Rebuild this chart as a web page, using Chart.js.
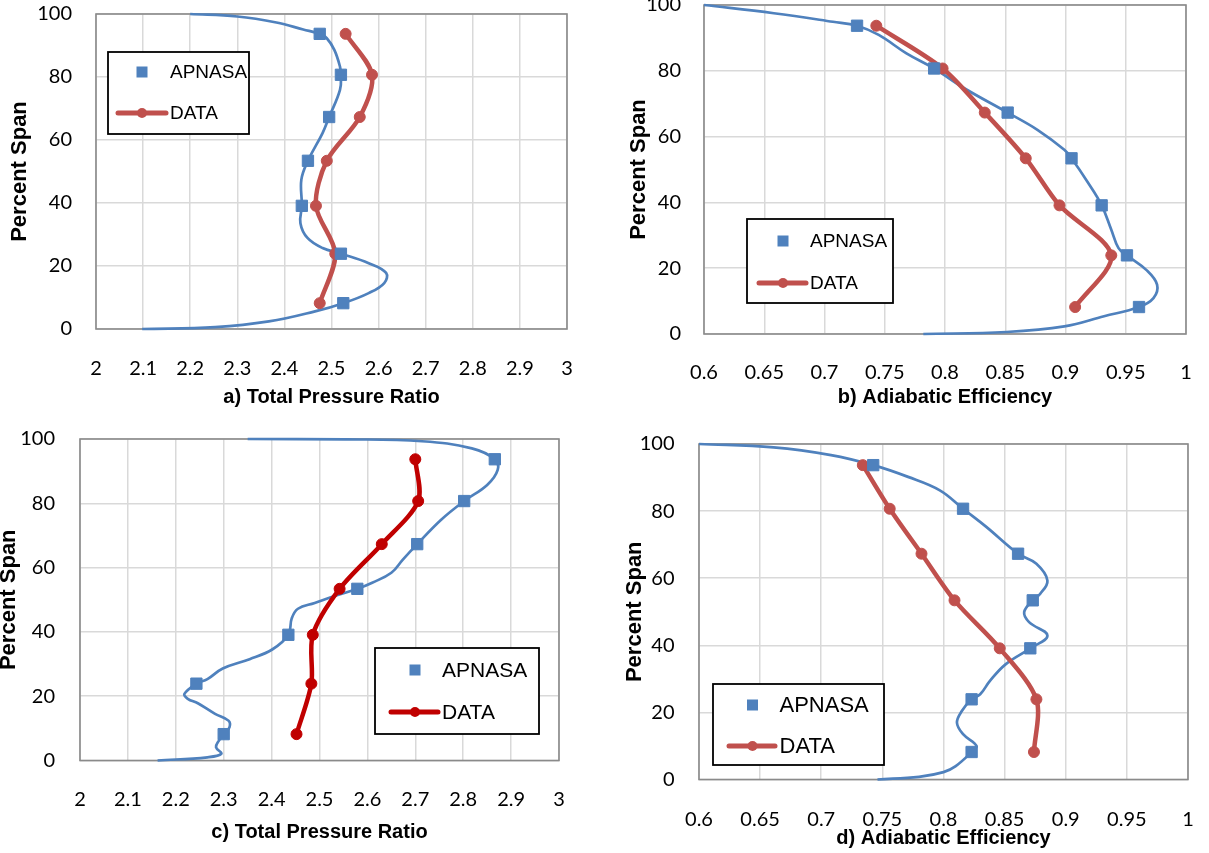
<!DOCTYPE html>
<html>
<head>
<meta charset="utf-8">
<script src="https://cdn.jsdelivr.net/npm/chart.js@4.4.1/dist/chart.umd.min.js"></script>
<style>
  html, body { margin: 0; padding: 0; background: #fff; }
  body { position: relative; width: 1209px; height: 853px; overflow: hidden; }
  .panel { position: absolute; }
</style>
</head>
<body>
<div class="panel" style="left:0px;top:0px;width:600px;height:420px"><canvas id="chart-a"></canvas></div>
<div class="panel" style="left:600px;top:-10px;width:609px;height:430px"><canvas id="chart-b"></canvas></div>
<div class="panel" style="left:0px;top:420px;width:600px;height:433px"><canvas id="chart-c"></canvas></div>
<div class="panel" style="left:600px;top:420px;width:609px;height:433px"><canvas id="chart-d"></canvas></div>
<script>
// tick labels
const spanTicks = [0, 20, 40, 60, 80, 100];
const prTicks = [2, 2.1, 2.2, 2.3, 2.4, 2.5, 2.6, 2.7, 2.8, 2.9, 3];
const effTicks = [0.6, 0.65, 0.7, 0.75, 0.8, 0.85, 0.9, 0.95, 1];
const spanTitle = 'Percent Span';

// span of the measured stations (markers)
const measSpan = [93.7, 80.7, 67.3, 53.4, 39.1, 23.9, 8.2];

// a) total pressure ratio
const aCurveX = [2.2, 2.30, 2.383, 2.44, 2.475, 2.49, 2.506, 2.518, 2.52, 2.518, 2.495, 2.481, 2.45, 2.436, 2.437, 2.434, 2.449, 2.481, 2.52, 2.579, 2.616, 2.612, 2.579, 2.525, 2.465, 2.367, 2.253, 2.098];
const aCurveY = [100, 99.2, 97.3, 95.1, 93.7, 92.3, 88.6, 83.3, 80.7, 75.9, 67.3, 62.2, 53.4, 47.4, 39.1, 33.6, 28.9, 25.7, 23.9, 20.9, 17.8, 14.6, 11.4, 8.2, 5.6, 2.4, 0.6, 0];
const aApnasa = [2.475, 2.52, 2.495, 2.45, 2.437, 2.52, 2.525];
const aData = [2.53, 2.586, 2.56, 2.49, 2.467, 2.508, 2.475];

// b) adiabatic efficiency
const bCurveX = [0.6, 0.658, 0.707, 0.727, 0.745, 0.768, 0.791, 0.816, 0.852, 0.877, 0.899, 0.905, 0.919, 0.930, 0.938, 0.944, 0.951, 0.967, 0.976, 0.973, 0.961, 0.932, 0.899, 0.851, 0.782];
const bCurveY = [100, 97.5, 94.9, 93.7, 90.9, 85.3, 80.7, 74.7, 67.3, 62, 56, 53.4, 45.8, 39.1, 31.7, 26.1, 23.9, 19.5, 15, 10.9, 8.2, 5.4, 2.3, 0.6, 0];
const bApnasa = [0.727, 0.791, 0.852, 0.905, 0.930, 0.951, 0.961];
const bData = [0.743, 0.798, 0.833, 0.867, 0.895, 0.938, 0.908];

// c) total pressure ratio
const cCurveX = [2.35, 2.554, 2.714, 2.818, 2.866, 2.872, 2.85, 2.802, 2.754, 2.704, 2.674, 2.65, 2.61, 2.579, 2.53, 2.49, 2.455, 2.442, 2.435, 2.402, 2.354, 2.298, 2.266, 2.243, 2.218, 2.225, 2.246, 2.282, 2.31, 2.312, 2.30, 2.29, 2.284, 2.295, 2.266, 2.162];
const cCurveY = [100, 99.9, 99.3, 97.1, 93.7, 90.4, 85.7, 80.7, 74.9, 67.3, 62.5, 58.4, 55.3, 53.4, 51.1, 49.0, 47.2, 44.2, 39.1, 34.6, 31.5, 28.6, 25.3, 23.9, 20.7, 19.2, 17.8, 14.5, 12.4, 10.3, 8.2, 6.2, 4.1, 2.1, 1.0, 0];
const cApnasa = [2.866, 2.802, 2.704, 2.579, 2.435, 2.243, 2.30];
const cData = [2.70, 2.706, 2.63, 2.542, 2.486, 2.483, 2.452];

// d) adiabatic efficiency
const dCurveX = [0.6, 0.661, 0.708, 0.7425, 0.771, 0.797, 0.816, 0.835, 0.861, 0.876, 0.885, 0.879, 0.873, 0.866, 0.870, 0.885, 0.871, 0.851, 0.838, 0.830, 0.823, 0.815, 0.811, 0.816, 0.827, 0.823, 0.81, 0.80, 0.78, 0.746];
const dCurveY = [100, 99, 96.7, 93.7, 90.2, 86.2, 80.7, 75.3, 67.3, 64.3, 59.3, 55.3, 53.4, 49.9, 46.9, 42.9, 39.1, 34.4, 29.4, 25.4, 23.9, 20.4, 16.9, 13.5, 10, 8.2, 4, 2.2, 0.8, 0];
const dApnasa = [0.7425, 0.816, 0.861, 0.873, 0.871, 0.823, 0.823];
const dData = [0.734, 0.756, 0.782, 0.809, 0.846, 0.876, 0.874];

const BLUE = '#4F81BD';
const RED = '#C0504D';
const DARK_RED = '#C00000';
const GRID = '#D9D9D9';

Chart.defaults.font.family = 'Lato';
Chart.defaults.color = '#000';

const pts = (xs, ys) => xs.map((x, i) => ({ x: x, y: ys[i] }));

// plot area outline, like the grey Excel frame
const plotFrame = {
  id: 'plotFrame',
  beforeDatasetsDraw(chart) {
    const a = chart.chartArea;
    const ctx = chart.ctx;
    ctx.save();
    ctx.strokeStyle = '#8A8A8A';
    ctx.lineWidth = 1.6;
    ctx.strokeRect(a.left, a.top, a.right - a.left, a.bottom - a.top);
    ctx.restore();
  }
};

// legend box inside the plot
const boxLegend = {
  id: 'boxLegend',
  afterDraw(chart, args, o) {
    const ctx = chart.ctx;
    const sets = chart.data.datasets.filter(d => d.inLegend);
    ctx.save();
    ctx.fillStyle = '#fff';
    ctx.fillRect(o.left, o.top, o.width, o.height);
    ctx.strokeStyle = '#000';
    ctx.lineWidth = 1.8;
    ctx.strokeRect(o.left, o.top, o.width, o.height);
    ctx.font = o.fontSize + 'px "Liberation Sans"';
    ctx.textBaseline = 'middle';
    ctx.textAlign = 'left';
    sets.forEach((ds, i) => {
      const y = o.rows[i];
      if (ds.showLine) {
        ctx.strokeStyle = ds.borderColor;
        ctx.lineWidth = o.lineWidth;
        ctx.lineCap = 'round';
        ctx.beginPath();
        ctx.moveTo(o.lineX1, y);
        ctx.lineTo(o.lineX2, y);
        ctx.stroke();
        ctx.fillStyle = ds.borderColor;
        ctx.beginPath();
        ctx.arc(o.markerX, y, o.dot, 0, Math.PI * 2);
        ctx.fill();
      } else {
        ctx.fillStyle = ds.backgroundColor;
        ctx.fillRect(o.markerX - o.square / 2, y - o.square / 2, o.square, o.square);
      }
      ctx.fillStyle = '#000';
      ctx.fillText(ds.label, o.textX, y + 1);
    });
    ctx.restore();
  }
};

function makePanel(id, p) {
  const tickFont = { family: 'Lato', size: 20 };
  new Chart(document.getElementById(id), {
    type: 'scatter',
    data: {
      datasets: [
        { label: 'APNASA line', data: pts(p.curveX, p.curveY), showLine: true,
          borderColor: BLUE, borderWidth: 2.7, pointRadius: 0, tension: 0.4, order: 3, inLegend: false },
        { label: 'APNASA', data: pts(p.apnasa, measSpan), showLine: false, pointStyle: 'rect',
          pointRadius: 8, backgroundColor: BLUE, borderColor: BLUE, order: 1, inLegend: true },
        { label: 'DATA', data: pts(p.data, measSpan), showLine: true, borderColor: p.red,
          backgroundColor: p.red, borderWidth: 4.5, pointRadius: 5.5, pointBorderWidth: 1,
          tension: 0.3, order: 2, inLegend: true }
      ]
    },
    options: {
      responsive: true,
      maintainAspectRatio: false,
      animation: false,
      events: [],
      clip: false,
      layout: { padding: { left: 0, top: p.top, right: p.right, bottom: 0 } },
      plugins: {
        legend: { display: false },
        tooltip: { enabled: false },
        boxLegend: p.legend
      },
      scales: {
        x: {
          type: 'linear',
          min: p.xTicks[0],
          max: p.xTicks[p.xTicks.length - 1],
          afterBuildTicks: s => { s.ticks = p.xTicks.map(v => ({ value: v })); },
          afterFit: s => { s.height = p.xH; s.paddingLeft = 0; s.paddingRight = 0; },
          grid: { color: GRID, lineWidth: 1.5, drawTicks: false },
          border: { display: false },
          ticks: { padding: p.xPad, font: tickFont, maxRotation: 0, autoSkip: false, callback: v => String(v) },
          title: { display: true, text: p.xTitle, color: '#000',
                   font: { family: 'Liberation Sans', size: 20, weight: 'bold', lineHeight: 1 },
                   padding: { top: 0, bottom: p.xTitlePad } }
        },
        y: {
          type: 'linear',
          min: 0,
          max: 100,
          afterBuildTicks: s => { s.ticks = spanTicks.map(v => ({ value: v })); },
          afterFit: s => { s.width = p.yW; s.paddingTop = 0; s.paddingBottom = 0; },
          grid: { color: GRID, lineWidth: 1.5, drawTicks: false },
          border: { display: false },
          ticks: { padding: p.yPad, font: tickFont },
          title: { display: true, text: spanTitle, color: '#000',
                   font: { family: 'Liberation Sans', size: 22, weight: 'bold', lineHeight: 1 },
                   padding: { top: p.yTitlePad, bottom: 0 } }
        }
      }
    },
    plugins: [plotFrame, boxLegend]
  });
}

makePanel('chart-a', {
  curveX: aCurveX, curveY: aCurveY, apnasa: aApnasa, data: aData, red: RED,
  xTicks: prTicks, xTitle: 'a) Total Pressure Ratio',
  top: 14, right: 33, yW: 96, xH: 91, yPad: 24, yTitlePad: 8.5, xPad: 28, xTitlePad: 13,
  legend: { left: 108, top: 52, width: 141, height: 82, rows: [72, 113], markerX: 142, textX: 170,
            lineX1: 118, lineX2: 166, fontSize: 19, square: 11, dot: 5, lineWidth: 5 }
});

makePanel('chart-b', {
  curveX: bCurveX, curveY: bCurveY, apnasa: bApnasa, data: bData, red: RED,
  xTicks: effTicks, xTitle: 'b) Adiabatic Efficiency',
  top: 15, right: 23, yW: 104, xH: 86, yPad: 23, yTitlePad: 27.5, xPad: 27, xTitlePad: 13,
  legend: { left: 147, top: 229, width: 146, height: 84, rows: [251, 293], markerX: 183, textX: 210,
            lineX1: 159, lineX2: 206, fontSize: 19, square: 11, dot: 5, lineWidth: 5 }
});

makePanel('chart-c', {
  curveX: cCurveX, curveY: cCurveY, apnasa: cApnasa, data: cData, red: DARK_RED,
  xTicks: prTicks, xTitle: 'c) Total Pressure Ratio',
  top: 19, right: 41, yW: 80, xH: 92.5, yPad: 25, yTitlePad: -2, xPad: 27.5, xTitlePad: 11,
  legend: { left: 375, top: 228, width: 164, height: 86, rows: [250, 292], markerX: 415, textX: 442,
            lineX1: 391, lineX2: 438, fontSize: 21, square: 11, dot: 5, lineWidth: 5 }
});

makePanel('chart-d', {
  curveX: dCurveX, curveY: dCurveY, apnasa: dApnasa, data: dData, red: RED,
  xTicks: effTicks, xTitle: 'd) Adiabatic Efficiency',
  top: 24, right: 21, yW: 99, xH: 73.5, yPad: 24.5, yTitlePad: 24, xPad: 28.5, xTitlePad: 4.5,
  legend: { left: 113, top: 264, width: 171, height: 81, rows: [285, 326], markerX: 152.5, textX: 179.5,
            lineX1: 129, lineX2: 175, fontSize: 22, square: 11, dot: 5, lineWidth: 5 }
});
</script>
</body>
</html>
